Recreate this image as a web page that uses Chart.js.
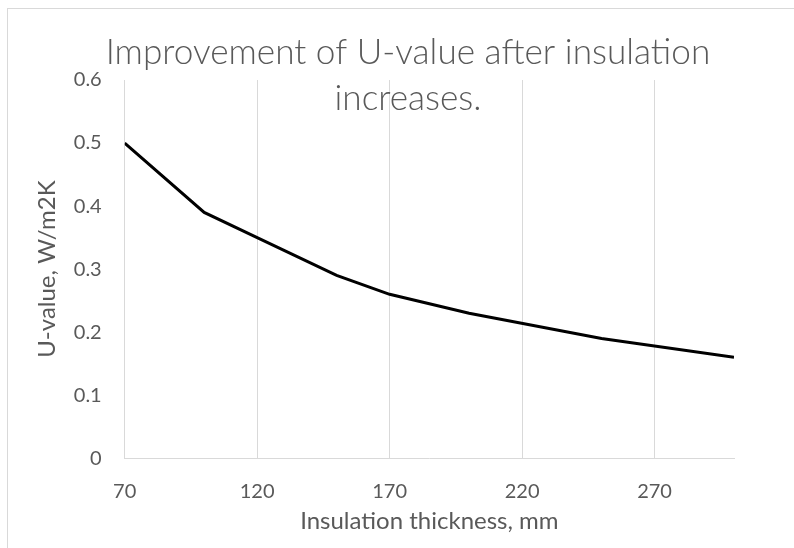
<!DOCTYPE html>
<html>
<head>
<meta charset="utf-8">
<script src="https://cdn.jsdelivr.net/npm/chart.js@4/dist/chart.umd.min.js"></script>
<style>
  html, body { margin: 0; padding: 0; background: #ffffff; }
  #wrap { position: relative; width: 794px; height: 548px; }
  canvas { display: block; }
</style>
</head>
<body>
<div id="wrap"><canvas id="c" width="794" height="548"></canvas></div>
<script>
// ---- data ----
const thicknessMm = [70, 100, 120, 150, 170, 200, 250, 300];
const uValues     = [0.5, 0.39, 0.35, 0.29, 0.26, 0.23, 0.19, 0.16];
const xTickValues = [70, 120, 170, 220, 270];
const yTickValues = [0, 0.1, 0.2, 0.3, 0.4, 0.5, 0.6];
const titleLines  = ['Improvement of U-value after insulation', 'increases.'];
const xTitle = 'Insulation thickness, mm';
const yTitle = 'U-value, W/m2K';

const points = thicknessMm.map((x, i) => ({ x: x, y: uValues[i] }));
const GREY = '#595959';
const GRID = '#d9d9d9';
const FONT = 'Lato, "Open Sans", sans-serif';

const frameAndTitle = {
  id: 'frameAndTitle',
  beforeDraw(chart) {
    const ctx = chart.ctx;
    ctx.save();
    ctx.fillStyle = '#ffffff';
    ctx.fillRect(0, 0, chart.width, chart.height);
    ctx.strokeStyle = GRID;
    ctx.lineWidth = 1;
    ctx.strokeRect(7.5, 8.5, 1000, 1000);
    ctx.restore();
  },
  afterDraw(chart) {
    const ctx = chart.ctx;
    ctx.save();
    let size = 32;
    ctx.font = '300 ' + size + 'px ' + FONT;
    const w = ctx.measureText(titleLines[0]).width;
    size = size * 605 / w;
    ctx.font = '300 ' + size.toFixed(2) + 'px ' + FONT;
    ctx.fillStyle = GREY;
    ctx.textAlign = 'center';
    ctx.textBaseline = 'alphabetic';
    ctx.fillText(titleLines[0], 408, 64);
    ctx.fillText(titleLines[1], 408, 110);
    ctx.restore();
  }
};

new Chart(document.getElementById('c'), {
  type: 'line',
  data: {
    datasets: [{
      data: points,
      borderColor: '#000000',
      borderWidth: 3,
      pointRadius: 0,
      pointHoverRadius: 0,
      fill: false,
      tension: 0
    }]
  },
  options: {
    responsive: false,
    animation: false,
    devicePixelRatio: 1,
    layout: { padding: { left: 10, right: 60, top: 80, bottom: 0 } },
    plugins: {
      legend: { display: false },
      title: { display: false },
      tooltip: { enabled: false }
    },
    scales: {
      x: {
        type: 'linear',
        min: 70,
        max: 300,
        afterBuildTicks: (scale) => { scale.ticks = xTickValues.map(v => ({ value: v })); },
        grid: { display: true, color: GRID, lineWidth: 1, drawTicks: false },
        border: { display: true, color: GRID, width: 1 },
        ticks: { color: GREY, font: { family: FONT, size: 20 }, padding: 21, maxRotation: 0, autoSkip: false },
        title: { display: true, text: xTitle, color: GREY, font: { family: FONT, size: 24 }, padding: { top: -17, bottom: 12 } }
      },
      y: {
        min: 0,
        max: 0.6,
        afterBuildTicks: (scale) => { scale.ticks = yTickValues.map(v => ({ value: v })); },
        grid: { display: false, drawTicks: false },
        border: { display: false },
        ticks: { color: GREY, font: { family: FONT, size: 20 }, padding: 23,
                 callback: (v) => String(Math.round(v * 10) / 10) },
        title: { display: true, text: yTitle, color: GREY, font: { family: FONT, size: 24 }, padding: { top: 23, bottom: -11 } }
      }
    }
  },
  plugins: [frameAndTitle]
});
</script>
</body>
</html>
